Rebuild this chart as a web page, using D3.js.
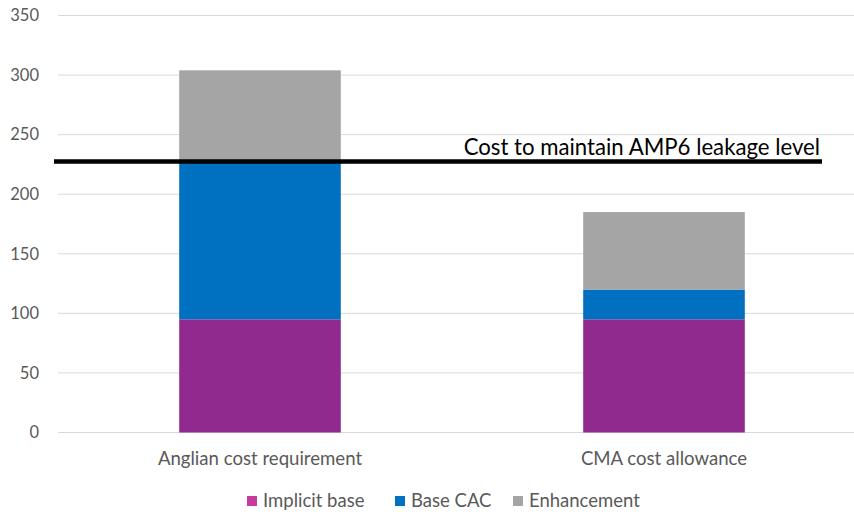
<!DOCTYPE html>
<html>
<head>
<meta charset="utf-8">
<script src="https://cdn.jsdelivr.net/npm/d3@7"></script>
<style>
  body { margin: 0; background: #fff; }
  text { font-family: Lato, "Open Sans", sans-serif; }
</style>
</head>
<body>
<div id="chart"></div>
<script>
// chart data
var categories = ['Anglian cost requirement', 'CMA cost allowance'];
var seriesNames = ['Implicit base', 'Base CAC', 'Enhancement'];
var implicitBase = [95, 95];
var baseCac = [132, 25];
var enhancement = [77, 65];
var yTicks = [0, 50, 100, 150, 200, 250, 300, 350];
var lineValue = 227.5;
var lineLabel = 'Cost to maintain AMP6 leakage level';

var barColors = ['#912a8f', '#0070c0', '#a5a5a5'];
var swatchColors = ['#c93a9f', '#0070c0', '#a5a5a5'];

var width = 854, height = 514;
var svg = d3.select('#chart').append('svg').attr('width', width).attr('height', height);

var x = d3.scaleBand().domain(categories).range([58, 866]).paddingInner(0.6).paddingOuter(0.3);
var y = d3.scaleLinear().domain([0, 350]).range([432.5, 15.5]);

// gridlines
svg.append('g').selectAll('line').data(yTicks).enter().append('line')
  .attr('x1', 58).attr('x2', 866)
  .attr('y1', function (d) { return y(d); }).attr('y2', function (d) { return y(d); })
  .attr('stroke', '#d9d9d9').attr('stroke-width', 1);

// y tick labels
svg.append('g').selectAll('text').data(yTicks).enter().append('text')
  .attr('x', 39).attr('y', function (d) { return y(d); })
  .attr('dy', '0.35em').attr('text-anchor', 'end')
  .attr('font-size', 16.5).attr('fill', '#595959')
  .text(function (d) { return d; });

// stacked bars
var rows = categories.map(function (c, i) {
  return { cat: c, s0: implicitBase[i], s1: baseCac[i], s2: enhancement[i] };
});
var stack = d3.stack().keys(['s0', 's1', 's2'])(rows);

svg.append('g').selectAll('g').data(stack).enter().append('g')
  .attr('fill', function (d, i) { return barColors[i]; })
  .selectAll('rect').data(function (d) { return d; }).enter().append('rect')
  .attr('x', function (d) { return x(d.data.cat); })
  .attr('width', x.bandwidth())
  .attr('y', function (d) { return y(d[1]); })
  .attr('height', function (d) { return y(d[0]) - y(d[1]); });

// category labels
svg.append('g').selectAll('text').data(categories).enter().append('text')
  .attr('x', function (d) { return x(d) + x.bandwidth() / 2; })
  .attr('y', 465).attr('text-anchor', 'middle')
  .attr('font-size', 18.6).attr('fill', '#595959')
  .text(function (d) { return d; });

// reference line
svg.append('line')
  .attr('x1', 54).attr('x2', 822)
  .attr('y1', y(lineValue)).attr('y2', y(lineValue))
  .attr('stroke', '#000').attr('stroke-width', 4.5);

svg.append('text')
  .attr('x', 820).attr('y', 155).attr('text-anchor', 'end')
  .attr('font-size', 22.2).attr('fill', '#000')
  .text(lineLabel);

// legend
var legendX = [247, 395, 513];
var legend = svg.append('g').selectAll('g').data(seriesNames).enter().append('g')
  .attr('transform', function (d, i) { return 'translate(' + legendX[i] + ',496)'; });
legend.append('rect').attr('width', 10).attr('height', 10)
  .attr('fill', function (d, i) { return swatchColors[i]; });
legend.append('text').attr('x', 16).attr('y', 5).attr('dy', '0.35em')
  .attr('font-size', 18.5).attr('fill', '#595959')
  .text(function (d) { return d; });
</script>
</body>
</html>
